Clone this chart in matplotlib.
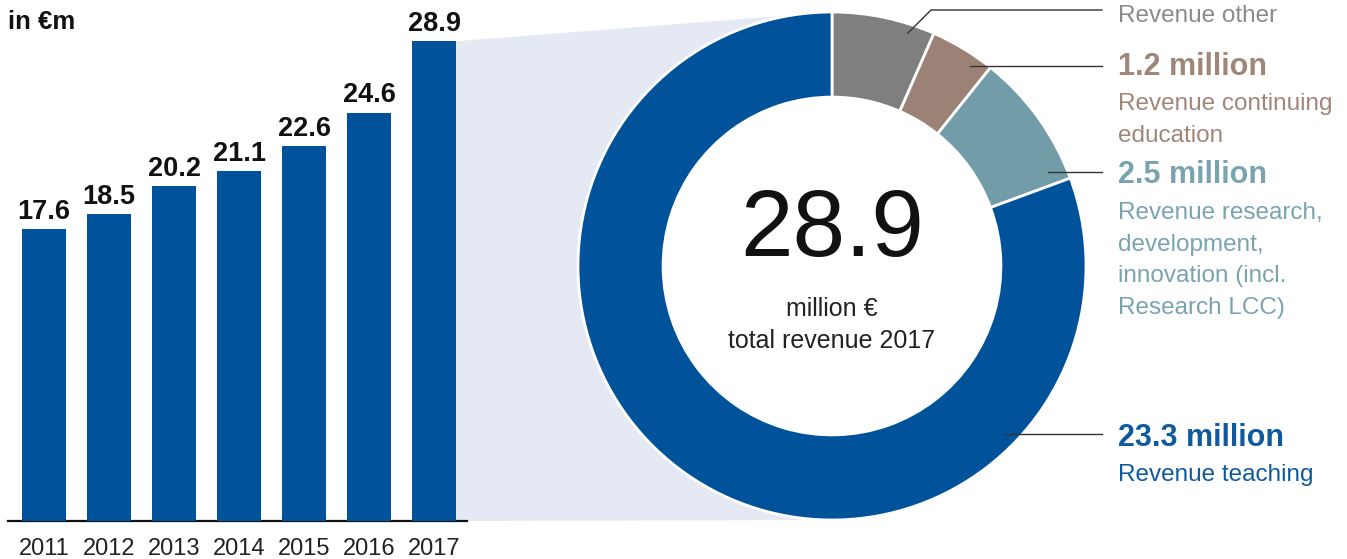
import matplotlib
matplotlib.use("Agg")
import matplotlib.pyplot as plt
from matplotlib.patches import Polygon, Circle
import numpy as np

plt.rcParams['font.family'] = ['Liberation Sans', 'DejaVu Sans']

# ---- data ----
years = ["2011", "2012", "2013", "2014", "2015", "2016", "2017"]
revenue = [17.6, 18.5, 20.2, 21.1, 22.6, 24.6, 28.9]
bar_labels = ["17.6", "18.5", "20.2", "21.1", "22.6", "24.6", "28.9"]

seg_names = ["Revenue other", "Revenue continuing\neducation",
             "Revenue research,\ndevelopment,\ninnovation (incl.\nResearch LCC)",
             "Revenue teaching"]
seg_values = [1.9, 1.2, 2.5, 23.3]
seg_value_labels = ["", "1.2 million", "2.5 million", "23.3 million"]
total_label = "28.9"

BLUE = "#00539b"
seg_colors = ["#7f7f7f", "#9c8276", "#719ca8", BLUE]
text_colors = ["#8a8a8a", "#a08679", "#7aa3b0", "#0f5a9c"]
FILL = "#e5e9f4"

W, H = 1347, 559
fig = plt.figure(figsize=(W / 100, H / 100), dpi=100)

def fx(px):
    return px / W

def fy(py):
    return 1 - py / H

# ---- bar chart ----
step = 65.0
c0 = 44.0
left_px, right_px = 8, 467
base_px = 521
top_px = 10
axb = fig.add_axes([fx(left_px), fy(base_px), fx(right_px - left_px), (base_px - top_px) / H])
xs = np.arange(len(years))
bw = 44 / step
axb.bar(xs, revenue, width=bw, color=BLUE, zorder=3)
axb.set_xlim((left_px - c0) / step, (right_px - c0) / step)
scale = 16.6
axb.set_ylim(0, (base_px - top_px) / scale)
for x, v, lab in zip(xs, revenue, bar_labels):
    axb.annotate(lab, (x, v), xytext=(0, 3), textcoords="offset points",
                 ha="center", va="bottom", fontsize=19.5, fontweight="bold", color="#111111")
axb.set_xticks(xs)
axb.set_xticklabels(years, fontsize=17, color="#222222")
axb.tick_params(axis="x", length=0, pad=12)
axb.set_yticks([])
for s in ["top", "right", "left"]:
    axb.spines[s].set_visible(False)
axb.spines["bottom"].set_color("#111111")
axb.spines["bottom"].set_linewidth(1.6)
axb.patch.set_visible(False)

fig.text(fx(8), fy(22), "in €m", fontsize=18.5, fontweight="bold", color="#111111",
         ha="left", va="center")

# ---- donut ----
cx, cy, R = 832, 266, 254
ring = 0.335
axp = fig.add_axes([fx(cx - R), fy(cy + R), fx(2 * R), 2 * R / H])
axp.add_patch(Circle((0, 0), 1 - ring, facecolor="white", edgecolor="none", zorder=0))
wedges, _ = axp.pie(seg_values, colors=seg_colors, startangle=90, counterclock=False,
                    radius=1.0, wedgeprops=dict(width=ring, edgecolor="white", linewidth=2))
axp.set_xlim(-1, 1)
axp.set_ylim(-1, 1)
axp.set_aspect("equal")
axp.axis("off")
axp.text(0, 0.135, total_label, ha="center", va="center", fontsize=68, color="#111111")
axp.text(0, -0.17, "million €", ha="center", va="center", fontsize=18, color="#222222")
axp.text(0, -0.295, "total revenue 2017", ha="center", va="center", fontsize=18, color="#222222")

# ---- connecting trapezoid ----
fig.canvas.draw()
inv = fig.transFigure.inverted()
p1 = axb.transData.transform((xs[-1] + bw / 2, revenue[-1]))
p4 = axb.transData.transform((xs[-1] + bw / 2, 0))
p2 = axp.transData.transform((0, 1))
p3 = axp.transData.transform((0, -1))
pts = inv.transform(np.array([p1, p2, p3, p4]))
poly = Polygon(pts, closed=True, facecolor=FILL, edgecolor="none",
               transform=fig.transFigure, zorder=-1)
fig.patches.append(poly)

# ---- leader lines and labels ----
line_kw = dict(color="#333333", linewidth=1.0, transform=fig.transFigure)
def fline(xp, yp):
    fig.add_artist(plt.Line2D([fx(v) for v in xp], [fy(v) for v in yp], **line_kw))

fline([908, 931, 1102], [33, 10, 10])
fline([970, 1102], [66, 66])
fline([1048, 1102], [172, 172])
fline([1005, 1102], [434, 434])

tx = 1118
fig.text(fx(tx), fy(16), seg_names[0], fontsize=17.5, color=text_colors[0], va="center")
fig.text(fx(tx), fy(67), seg_value_labels[1], fontsize=22, fontweight="bold",
         color=text_colors[1], va="center")
for i, line in enumerate(seg_names[1].split("\n")):
    fig.text(fx(tx), fy(104 + 32 * i), line, fontsize=17.5, color=text_colors[1], va="center")
fig.text(fx(tx), fy(175), seg_value_labels[2], fontsize=22, fontweight="bold",
         color=text_colors[2], va="center")
for i, line in enumerate(seg_names[2].split("\n")):
    fig.text(fx(tx), fy(213 + 31.7 * i), line, fontsize=17.5, color=text_colors[2], va="center")
fig.text(fx(tx), fy(438), seg_value_labels[3], fontsize=22, fontweight="bold",
         color=text_colors[3], va="center")
fig.text(fx(tx), fy(475), seg_names[3], fontsize=17.5, color=text_colors[3], va="center")

fig.savefig("out.png", dpi=100)
